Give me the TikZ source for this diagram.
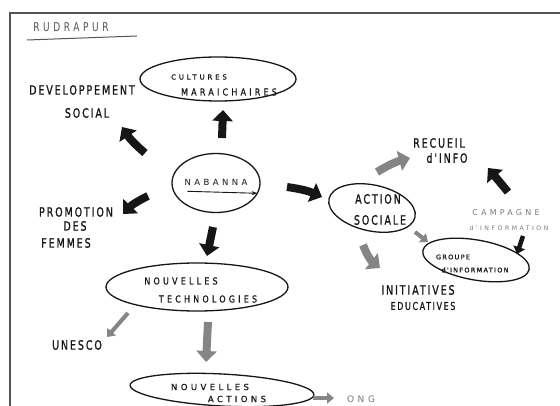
\documentclass[tikz,border=0pt]{standalone}
\usepackage{fontspec}
\setmainfont{DejaVu Sans}
\newfontfamily\handA{DejaVu Sans}[LetterSpace=20,FakeBold=1.2]
\newfontfamily\handB{DejaVu Sans}[LetterSpace=40,FakeBold=0.6]
\newfontfamily\handC{DejaVu Sans}[LetterSpace=40]
\usetikzlibrary{shapes.geometric,arrows.meta,calc}
\newcommand\tallword[1]{\scalebox{1}[1.35]{#1}}
\definecolor{ink}{HTML}{161616}
\definecolor{framecol}{HTML}{555555}
\definecolor{grayfill}{HTML}{858585}
\definecolor{graytext}{HTML}{7A7A7A}
\tikzset{
  bubble/.style={ellipse, draw=ink, line width=1.3pt, inner sep=0pt},
  big/.style={inner sep=0pt, text=ink, font=\handA\fontsize{9.5}{11}\selectfont},
  mid/.style={inner sep=0pt, text=ink, font=\handB\fontsize{8}{10}\selectfont},
  tiny/.style={inner sep=0pt, text=ink, font=\handA\fontsize{6.5}{8}\selectfont},
  faint/.style={text=graytext},
  blkarrow/.style={draw=ink, line width=8pt, -{Triangle[length=11pt,width=20pt]}},
  blksmall/.style={draw=ink, line width=4.5pt, -{Triangle[length=7pt,width=12pt]}},
  grayarrow/.style={draw=grayfill, line width=8pt, -{Triangle[length=11pt,width=20pt]}},
  graysmall/.style={draw=grayfill, line width=4pt, -{Triangle[length=7pt,width=11pt]}},
}
\begin{document}
\begin{tikzpicture}[x=1pt,y=-1pt]
\useasboundingbox (0,0) rectangle (560,406);
\fill[white] (0,0) rectangle (560,406);
% frame
\draw[framecol, line width=1.3pt] (10,406) -- (10,13) -- (560,13);

% title
\node[inner sep=0pt, font=\handC\fontsize{9}{10}\selectfont, text=framecol] (title) at (71,27) {\tallword{RUDRAPUR}};
\draw[framecol, line width=1pt] ([shift={(-44,13)}]title.center) -- ([shift={(66,9)}]title.center);

% bubbles
\node[bubble, minimum width=156pt, minimum height=44pt] (cult) at (218,79) {};
\node[bubble, minimum width=88pt, minimum height=59pt] (nab) at (216,183) {};
\node[bubble, minimum width=88pt, minimum height=46pt, rotate=-12] (act) at (372,208) {};
\node[bubble, minimum width=108pt, minimum height=40pt, rotate=-10] (grp) at (476,260) {};
\node[bubble, minimum width=182pt, minimum height=48pt] (tech) at (197,287) {};
\node[bubble, minimum width=184pt, minimum height=32pt, rotate=-3] (acts) at (222,390) {};

% texts
\node[mid, font=\handB\fontsize{7}{9}\selectfont] (cultA) at (199,77) {CULTURES};
\node[mid, font=\handB\fontsize{8}{10}\selectfont] (cultB) at (229,92) {\scalebox{1}[1.2]{MARAICHAIRES}};
\node[big] (devA) at (82,90) {\tallword{DEVELOPPEMENT}};
\node[big] (devB) at (87,113) {\tallword{SOCIAL}};
\node[mid, font=\handC\fontsize{8.5}{10}\selectfont] (nabT) at (216,182) {NABANNA};
\draw[ink, line width=0.9pt, -{Stealth[length=6pt,width=4pt]}] ([shift={(3,6)}]nabT.south west) -- ([shift={(10,8)}]nabT.south east);
\node[big] (recA) at (439,143) {\tallword{RECUEIL}};
\node[big] (recB) at (447,158) {\tallword{d'INFO}};
\node[big] (actA) at (378,199) {\tallword{ACTION}};
\node[big] (actB) at (380,220) {\tallword{SOCIALE}};
\node[inner sep=0pt, text=graytext, font=\handC\fontsize{8}{10}\selectfont] (camA) at (506,213) {CAMPAGNE};
\node[inner sep=0pt, text=graytext, font=\handC\fontsize{6.2}{8}\selectfont] (camB) at (509,228) {d'INFORMATION};
\node[tiny] (grpA) at (453,257) {GROUPE};
\node[tiny] (grpB) at (475,270) {d'INFORMATION};
\node[big] (iniA) at (418,290) {\tallword{INITIATIVES}};
\node[big, font=\handA\fontsize{8}{10}\selectfont] (iniB) at (423,306) {\tallword{EDUCATIVES}};
\node[big] (proA) at (76,212) {\tallword{PROMOTION}};
\node[big] (proB) at (75,226) {\tallword{DES}};
\node[big] (proC) at (66,243) {\tallword{FEMMES}};
\node[mid] (techA) at (181,281) {\scalebox{1}[1.2]{NOUVELLES}};
\node[mid] (techB) at (208,299) {\scalebox{1}[1.2]{TECHNOLOGIES}};
\node[big] (unesco) at (77,345) {\tallword{UNESCO}};
\node[mid, font=\handB\fontsize{8.5}{10}\selectfont] (actsA) at (210,387) {NOUVELLES};
\node[mid, font=\handB\fontsize{8.5}{10}\selectfont] (actsB) at (237,399) {ACTIONS};
\node[inner sep=0pt, text=graytext, font=\handC\fontsize{9}{10}\selectfont] (ong) at (361,399) {ONG};

% black arrows from NABANNA
\draw[blkarrow] ($(nab)+(6,-45)$) -- ($(cult)+(5,31)$);
\draw[blkarrow] ($(nab)+(-71,-30)$) to[bend left=8] ($(devB)+(35,14)$);
\draw[blkarrow] ($(nab)+(-68,13)$) to[bend right=10] ($(proA)+(47,2)$);
\draw[blkarrow] ($(nab)+(-3,44)$) -- ($(tech)+(10,-31)$);
\draw[blkarrow] ($(nab)+(71,4)$) to[bend left=8] ($(act)+(-50,-11)$);

% right cluster
\draw[grayarrow] ($(act)+(5,-36)$) to[bend left=8] ($(recB)+(-37,0)$);
\draw[blkarrow] ($(camA)+(2,-21)$) -- ($(recB)+(41,10)$);
\draw[blksmall] ($(camB)+(14,8)$) -- ($(grp)+(41,-6)$);
\draw[graysmall] ($(act)+(43,24)$) -- ($(grp)+(-48,-18)$);
\draw[grayarrow] ($(act)+(-9,37)$) to[bend right=15] ($(iniA)+(-38,-22)$);

% lower cluster
\draw[graysmall] ($(tech)+(-69,26)$) -- ($(unesco)+(30,-8)$);
\draw[grayarrow] ($(tech)+(11,35)$) -- ($(acts)+(-16,-28)$);
\draw[graysmall] ($(acts)+(91,8)$) -- ($(ong)+(-27,-1)$);
\end{tikzpicture}
\end{document}
